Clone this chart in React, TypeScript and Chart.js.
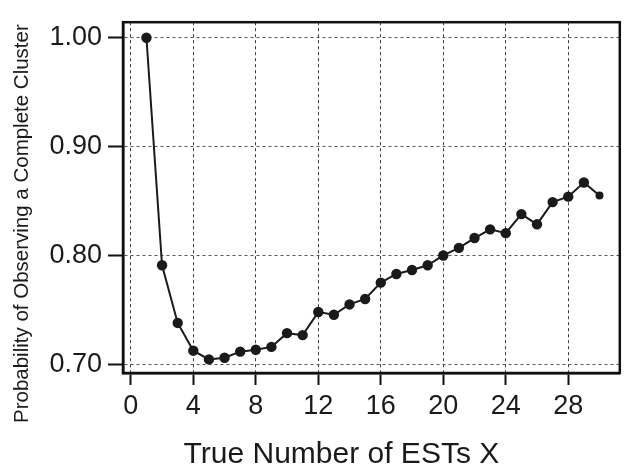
import React, { useEffect, useRef } from "react";
import { Chart, registerables } from "chart.js";

Chart.register(...registerables);

const xValues = [1, 2, 3, 4, 5, 6, 7, 8, 9, 10, 11, 12, 13, 14, 15, 16, 17, 18, 19, 20, 21, 22, 23, 24, 25, 26, 27, 28, 29, 30];
const probValues = [
  1.0, 0.791, 0.738, 0.7125, 0.7045, 0.706, 0.7116, 0.7134, 0.716, 0.7286,
  0.7268, 0.748, 0.7455, 0.755, 0.76, 0.775, 0.783, 0.7866, 0.791, 0.8,
  0.807, 0.816, 0.824, 0.8205, 0.838, 0.8286, 0.849, 0.854, 0.867, 0.855,
];
const xTicks = [0, 4, 8, 12, 16, 20, 24, 28];
const yTicks = [0.7, 0.8, 0.9, 1.0];
const xTitle = "True Number of ESTs X";
const yTitle = "Probability of Observing a Complete Cluster";

const FONT = "'Liberation Sans', Arial, Helvetica, sans-serif";

const framePlugin = {
  id: "frame",
  afterDatasetsDraw(chart: any) {
    const { ctx, chartArea } = chart;
    ctx.save();
    ctx.strokeStyle = "#111";
    ctx.lineWidth = 2.5;
    ctx.strokeRect(chartArea.left, chartArea.top, chartArea.right - chartArea.left, chartArea.bottom - chartArea.top);
    ctx.restore();
  },
};

const titlesPlugin = {
  id: "axisTitles",
  afterDraw(chart: any) {
    const { ctx, chartArea } = chart;
    ctx.save();
    ctx.fillStyle = "#1a1a1a";
    ctx.font = `30px ${FONT}`;
    ctx.textAlign = "center";
    ctx.textBaseline = "alphabetic";
    ctx.fillText(xTitle, (chartArea.left + chartArea.right) / 2 - 30, chart.height - 4);
    ctx.translate(28, (chartArea.top + chartArea.bottom) / 2 + 26);
    ctx.rotate(-Math.PI / 2);
    ctx.font = `20.5px ${FONT}`;
    ctx.fillText(yTitle, 0, 0);
    ctx.restore();
  },
};

export default function App() {
  const ref = useRef<HTMLCanvasElement | null>(null);

  useEffect(() => {
    if (!ref.current) return;
    const chart = new Chart(ref.current, {
      type: "line",
      data: {
        datasets: [
          {
            data: xValues.map((x, i) => ({ x, y: probValues[i] })),
            borderColor: "#1a1a1a",
            backgroundColor: "#1a1a1a",
            borderWidth: 2,
            pointRadius: xValues.map((_, i) => (i === xValues.length - 1 ? 4 : 5.2)),
            pointBackgroundColor: "#1a1a1a",
            pointBorderWidth: 0,
            tension: 0,
          },
        ],
      },
      options: {
        responsive: false,
        animation: false,
        layout: { padding: { left: 0, top: 12, right: 3, bottom: 0 } },
        plugins: { legend: { display: false }, tooltip: { enabled: false }, title: { display: false } },
        scales: {
          x: {
            type: "linear",
            min: -0.5,
            max: 31.3,
            afterBuildTicks: (scale: any) => {
              scale.ticks = xTicks.map((v) => ({ value: v }));
            },
            afterFit: (scale: any) => {
              scale.height = 94;
            },
            ticks: {
              color: "#1a1a1a",
              font: { size: 27, family: FONT },
              padding: 5,
              maxRotation: 0,
              autoSkip: false,
              callback: (v: any) => String(v),
            },
            grid: {
              color: "#3a3a3a",
              lineWidth: 1,
              tickLength: 12,
              tickColor: "#111",
              tickWidth: 2,
              tickBorderDash: [],
            },
            border: { display: true, color: "#111", width: 2.5, dash: [3, 3] },
          },
          y: {
            type: "linear",
            min: 0.692,
            max: 1.0143,
            afterBuildTicks: (scale: any) => {
              scale.ticks = yTicks.map((v) => ({ value: v }));
            },
            afterFit: (scale: any) => {
              scale.width = 123;
            },
            ticks: {
              color: "#1a1a1a",
              font: { size: 27, family: FONT },
              padding: 6,
              autoSkip: false,
              callback: (v: any) => Number(v).toFixed(2),
            },
            grid: {
              color: "#555",
              lineWidth: 1,
              tickLength: 15,
              tickColor: "#111",
              tickWidth: 2,
              tickBorderDash: [],
            },
            border: { display: true, color: "#111", width: 2.5, dash: [3, 3] },
          },
        },
      },
      plugins: [framePlugin, titlesPlugin],
    });
    return () => chart.destroy();
  }, []);

  return (
    <div style={{ position: "absolute", left: 0, top: 0, width: 625, height: 467, background: "#fff" }}>
      <canvas ref={ref} width={625} height={467} />
    </div>
  );
}
